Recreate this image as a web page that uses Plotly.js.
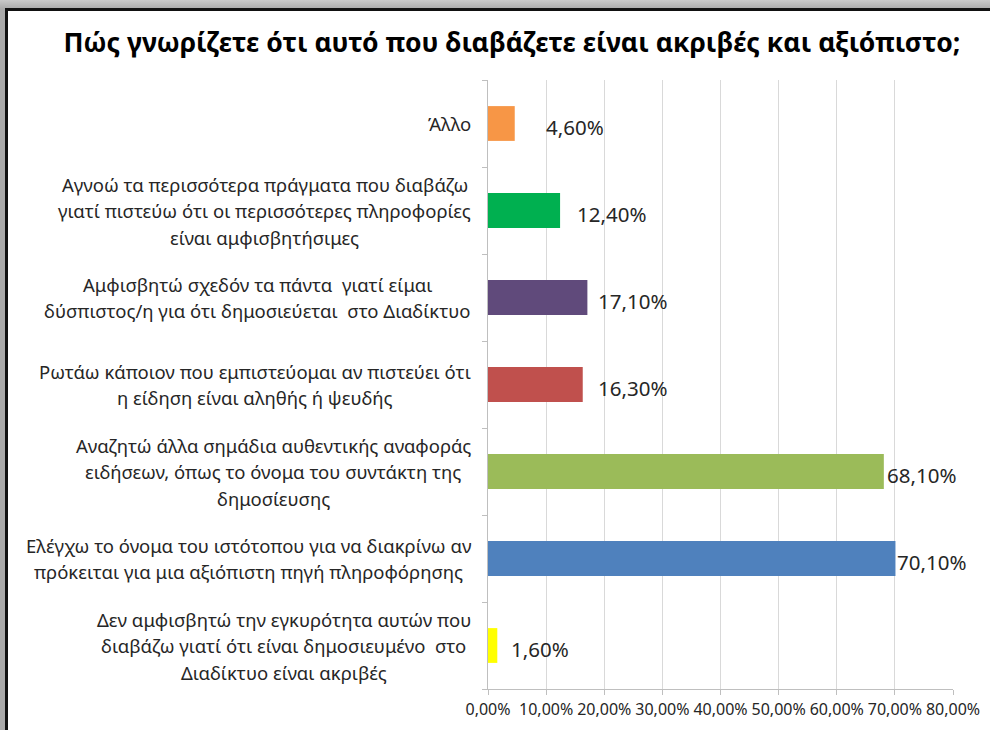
<!DOCTYPE html>
<html>
<head>
<meta charset="utf-8">
<script src="https://cdn.plot.ly/plotly-3.0.1.min.js"></script>
<style>
  html, body { margin: 0; padding: 0; }
  body { width: 990px; height: 730px; overflow: hidden; position: relative;
         background: linear-gradient(to bottom, #c9c9c9 0px, #a9a9a9 9px); }
  #frame { position: absolute; left: 5px; top: 8px; width: 990px; height: 730px;
           background: #ffffff; border-left: 3px solid #111; border-top: 3px solid #111; }
  #chart { position: absolute; left: 0; top: 0; width: 990px; height: 730px; }
</style>
</head>
<body>
<div id="frame"></div>
<div id="chart"></div>
<script>
// Data (bottom to top, as drawn on the category axis)
const categories = [
  "Δεν αμφισβητώ την εγκυρότητα αυτών που<br>διαβάζω γιατί ότι είναι δημοσιευμένο  στο<br>Διαδίκτυο είναι ακριβές",
  "Ελέγχω το όνομα του ιστότοπου για να διακρίνω αν<br>πρόκειται για μια αξιόπιστη πηγή πληροφόρησης",
  "Αναζητώ άλλα σημάδια αυθεντικής αναφοράς<br>ειδήσεων, όπως το όνομα του συντάκτη της<br>δημοσίευσης",
  "Ρωτάω κάποιον που εμπιστεύομαι αν πιστεύει ότι<br>η είδηση είναι αληθής ή ψευδής",
  "Αμφισβητώ σχεδόν τα πάντα  γιατί είμαι<br>δύσπιστος/η για ότι δημοσιεύεται  στο Διαδίκτυο",
  "Αγνοώ τα περισσότερα πράγματα που διαβάζω<br>γιατί πιστεύω ότι οι περισσότερες πληροφορίες<br>είναι αμφισβητήσιμες",
  "Άλλο"
];
const values = [1.6, 70.1, 68.1, 16.3, 17.1, 12.4, 4.6];
const barColors = ["#FFFF00", "#4F81BD", "#9BBB59", "#C0504D", "#604A7B", "#00B050", "#F79646"];
const tickValues = [0, 10, 20, 30, 40, 50, 60, 70, 80];
const titleText = "Πώς γνωρίζετε ότι αυτό που διαβάζετε είναι ακριβές και αξιόπιστο;";

// Style
const FONT = "Noto Sans";
const catFontSize = 18.5;
const lineH = 26.5;
const labelShift = [12, 0, 1, 13, 9, 15, 29];

function fmt(v) { return v.toFixed(2).replace('.', ',') + '%'; }

const canvas = document.createElement('canvas');
const ctx = canvas.getContext('2d');
ctx.font = catFontSize + 'px "' + FONT + '"';

const annotations = [];
categories.forEach((cat, k) => {
  const lines = cat.split('<br>');
  const maxW = Math.max(...lines.map(l => ctx.measureText(l).width));
  const n = lines.length;
  lines.forEach((line, i) => {
    annotations.push({
      xref: 'paper', yref: 'y', x: 0, y: cat,
      xanchor: 'center', yanchor: 'middle',
      xshift: -17 - maxW / 2, yshift: ((n - 1) / 2 - i) * lineH,
      text: line, showarrow: false,
      font: { family: FONT, size: catFontSize, color: '#262626' }
    });
  });
  annotations.push({
    xref: 'x', yref: 'y', x: values[k], y: cat,
    xanchor: 'left', yanchor: 'middle', xshift: labelShift[k], yshift: -3,
    text: fmt(values[k]), showarrow: false,
    font: { family: FONT, size: 20.5, color: '#262626' }
  });
});

const trace = {
  type: 'bar', orientation: 'h',
  y: categories, x: values,
  width: 0.4,
  marker: { color: barColors, line: { width: 0 } },
  hoverinfo: 'skip'
};

const layout = {
  width: 990, height: 730,
  margin: { l: 488, r: 37, t: 80, b: 41 },
  paper_bgcolor: 'rgba(0,0,0,0)', plot_bgcolor: 'rgba(0,0,0,0)',
  separators: ',.',
  showlegend: false,
  title: {
    text: '<b>' + titleText + '</b>',
    x: 0.517, xanchor: 'center', y: 1 - 43 / 730, yanchor: 'middle',
    font: { family: FONT, size: 26.5, color: '#000' }
  },
  xaxis: {
    range: [0, 80], tickvals: tickValues,
    ticktext: tickValues.map(fmt),
    showgrid: true, gridcolor: '#d9d9d9', gridwidth: 1,
    zeroline: false,
    showline: true, linecolor: '#bfbfbf', linewidth: 1,
    ticks: 'outside', ticklen: 5, tickcolor: '#bfbfbf',
    ticklabelstandoff: 1,
    tickfont: { family: FONT, size: 16, color: '#262626' },
    fixedrange: true
  },
  yaxis: {
    type: 'category', categoryarray: categories, categoryorder: 'array',
    showticklabels: false,
    showline: true, linecolor: '#bfbfbf', linewidth: 1,
    ticks: 'outside', ticklen: 5, tickcolor: '#bfbfbf', tickson: 'boundaries',
    showgrid: false, zeroline: false,
    fixedrange: true
  },
  annotations: annotations,
  bargap: 0.6
};

Plotly.newPlot('chart', [trace], layout, { displayModeBar: false, staticPlot: true });
</script>
</body>
</html>
